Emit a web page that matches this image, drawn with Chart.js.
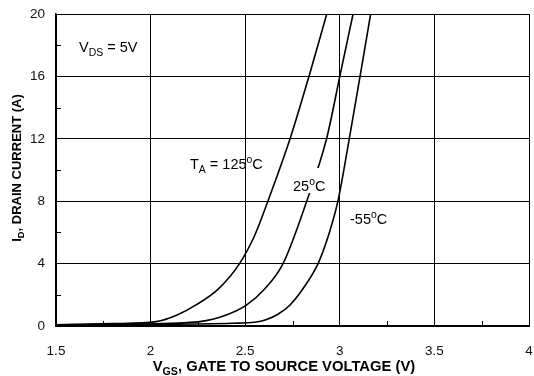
<!DOCTYPE html>
<html><head><meta charset="utf-8">
<script src="https://cdn.jsdelivr.net/npm/chart.js@4"></script>
<style>html,body{margin:0;padding:0;background:#fff}#wrap{width:534px;height:376px}</style>
</head><body><div id="wrap"><canvas id="c" width="534" height="376"></canvas></div>
<script>
// Data (V_GS in volts, I_D in amps)
const vgs125 = [1.5, 1.8, 2.03, 2.14, 2.24, 2.36, 2.47, 2.55, 2.62, 2.737, 2.837, 2.931];
const id125  = [0.08, 0.15, 0.28, 0.7, 1.35, 2.4, 4.0, 5.8, 8.0, 12.0, 16.0, 20.0];
const vgs25  = [1.5, 1.9, 2.26, 2.40, 2.508, 2.605, 2.70, 2.825, 2.93, 3.0, 3.07];
const id25   = [0.06, 0.12, 0.28, 0.7, 1.35, 2.4, 4.0, 8.0, 12.0, 16.0, 20.0];
const vgsM55 = [1.5, 2.0, 2.435, 2.55, 2.61, 2.673, 2.737, 2.806, 2.885, 2.94, 2.99, 3.05, 3.107, 3.163];
const idM55  = [0.05, 0.1, 0.18, 0.24, 0.4, 0.75, 1.35, 2.4, 4.0, 5.8, 8.0, 12.0, 16.0, 20.0];
const xTicks = [1.5, 2, 2.5, 3, 3.5, 4];
const yTicks = [0, 4, 8, 12, 16, 20];
const xMinor = [1.75, 2.25, 2.75, 3.25, 3.75];
const yMinor = [2, 6, 10, 14, 18];

const pts = (xs, ys) => xs.map((x, i) => ({x, y: ys[i]}));
const FONT = '"Liberation Sans", Arial, sans-serif';

function richText(ctx, x, y, parts, size, bold, align) {
  const w = [];
  let total = 0;
  parts.forEach(p => {
    const s = p.m === 'n' ? size : size * 0.72;
    ctx.font = (bold ? 'bold ' : '') + s + 'px ' + FONT;
    const ww = ctx.measureText(p.t).width;
    w.push(ww); total += ww;
  });
  let cx = align === 'center' ? x - total / 2 : x;
  ctx.textBaseline = 'alphabetic';
  ctx.textAlign = 'left';
  parts.forEach((p, i) => {
    const s = p.m === 'n' ? size : size * 0.72;
    ctx.font = (bold ? 'bold ' : '') + s + 'px ' + FONT;
    let dy = 0;
    if (p.m === 'sub') dy = size * 0.25;
    if (p.m === 'sup') dy = -size * 0.42;
    ctx.fillText(p.t, cx, y + dy);
    cx += w[i];
  });
  return total;
}

const overlay = {
  id: 'overlay',
  afterDatasetsDraw(chart) {
    const ctx = chart.ctx;
    const xs = chart.scales.x, ys = chart.scales.y;
    const a = chart.chartArea;
    ctx.save();
    ctx.strokeStyle = '#000'; ctx.lineWidth = 1;
    ctx.beginPath();
    xMinor.forEach(v => { const px = Math.round(xs.getPixelForValue(v)) + 0.5; ctx.moveTo(px, a.bottom); ctx.lineTo(px, a.bottom - 5); });
    yMinor.forEach(v => { const py = Math.round(ys.getPixelForValue(v)) + 0.5; ctx.moveTo(a.left, py); ctx.lineTo(a.left + 5, py); });
    ctx.stroke();
    ctx.fillStyle = '#000';
    // annotations
    richText(ctx, 79, 52, [{t:'V', m:'n'}, {t:'DS', m:'sub'}, {t:' = 5V', m:'n'}], 14.5, false);
    richText(ctx, 190, 169, [{t:'T', m:'n'}, {t:'A', m:'sub'}, {t:' = 125', m:'n'}, {t:'o', m:'sup'}, {t:'C', m:'n'}], 14.5, false);
    ctx.fillStyle = '#fff';
    ctx.fillRect(292, 168, 35, 25);
    ctx.fillStyle = '#000';
    richText(ctx, 293, 191, [{t:'25', m:'n'}, {t:'o', m:'sup'}, {t:'C', m:'n'}], 14.5, false);
    richText(ctx, 350, 224, [{t:'-55', m:'n'}, {t:'o', m:'sup'}, {t:'C', m:'n'}], 14.5, false);
    // axis titles
    richText(ctx, 284, 371, [{t:'V', m:'n'}, {t:'GS', m:'sub'}, {t:', GATE TO SOURCE VOLTAGE (V)', m:'n'}], 14.8, true, 'center');
    ctx.translate(21, 168);
    ctx.rotate(-Math.PI / 2);
    richText(ctx, 0, 0, [{t:'I', m:'n'}, {t:'D', m:'sub'}, {t:', DRAIN CURRENT (A)', m:'n'}], 13, true, 'center');
    ctx.restore();
  }
};

const ds = (data) => ({data, borderColor: '#000', borderWidth: 1.6, pointRadius: 0, showLine: true, fill: false, cubicInterpolationMode: 'monotone'});

new Chart(document.getElementById('c'), {
  type: 'scatter',
  data: { datasets: [ds(pts(vgs125, id125)), ds(pts(vgs25, id25)), ds(pts(vgsM55, idM55))] },
  options: {
    responsive: false, animation: false, events: [],
    layout: { padding: { top: 14, right: 5, left: 0, bottom: 0 } },
    plugins: { legend: { display: false }, tooltip: { enabled: false } },
    scales: {
      x: {
        type: 'linear', min: 1.5, max: 4,
        afterBuildTicks: s => { s.ticks = xTicks.map(v => ({value: v})); },
        afterFit: s => { s.height = 50; s.paddingLeft = 0; s.paddingRight = 0; },
        ticks: { color: '#111', font: { family: FONT, size: 13.5 }, padding: 17, maxRotation: 0, callback: v => String(v) },
        grid: { color: '#000', lineWidth: 1, drawTicks: false },
        border: { color: '#000', width: 2 }
      },
      y: {
        type: 'linear', min: 0, max: 20,
        afterBuildTicks: s => { s.ticks = yTicks.map(v => ({value: v})); },
        afterFit: s => { s.width = 56; s.paddingTop = 0; s.paddingBottom = 0; },
        ticks: { color: '#111', font: { family: FONT, size: 13.5 }, padding: 11, callback: v => String(v) },
        grid: { color: '#000', lineWidth: 1, drawTicks: false },
        border: { color: '#000', width: 1.5 }
      }
    }
  },
  plugins: [overlay]
});
</script>
</body></html>
